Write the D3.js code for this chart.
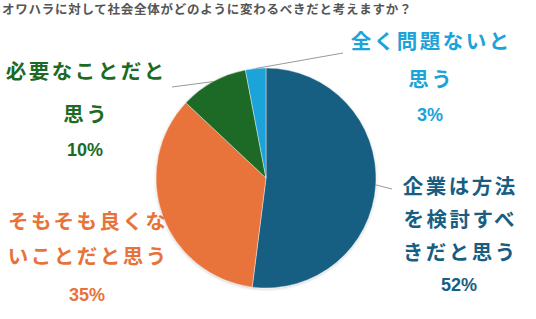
<!DOCTYPE html>
<html>
<head>
<meta charset="utf-8">
<script src="https://cdn.jsdelivr.net/npm/d3@7"></script>
<style>
  body { margin: 0; background: #fff; }
  text { font-family: "Noto Sans CJK JP", sans-serif; font-weight: bold; }
</style>
</head>
<body>
<svg width="536" height="319"></svg>
<script>
const svg = d3.select('svg')
const width = +svg.attr('width')
const height = +svg.attr('height')

const title = 'オワハラに対して社会全体がどのように変わるべきだと考えますか？'
const categories = ['企業は方法を検討すべきだと思う', 'そもそも良くないことだと思う', '必要なことだと思う', '全く問題ないと思う']
const values = [52, 35, 10, 3]
const labelLines = [
	['企業は方法', 'を検討すべ', 'きだと思う'],
	['そもそも良くな', 'いことだと思う'],
	['必要なことだと', '思う'],
	['全く問題ないと', '思う'],
]
const colors = ['#175e82', '#e8733a', '#1d6a25', '#1ba3da']

// label placement: block centre x, y of each text line, y of percent
const labelLayout = [
	{ x: 459, ys: [187, 220, 253], py: 285, anchor: [392, 189] },
	{ x: 87, ys: [222, 257], py: 295, anchor: null },
	{ x: 85, ys: [72, 115], py: 150, anchor: [172, 87] },
	{ x: 430, ys: [42, 80], py: 115, anchor: [343, 53] },
]

const cx = 266
const cy = 178
const radius = 110

svg.append('text')
	.attr('x', 2)
	.attr('y', 14)
	.attr('fill', '#555')
	.style('font-size', '12.5px')
	.style('letter-spacing', '0.75px')
	.text(title)

const defs = svg.append('defs')
const shadow = defs.append('filter').attr('id', 'shadow')
	.attr('x', '-10%').attr('y', '-10%').attr('width', '120%').attr('height', '120%')
shadow.append('feDropShadow')
	.attr('dx', 0).attr('dy', 1).attr('stdDeviation', 1.5)
	.attr('flood-color', '#000').attr('flood-opacity', 0.2)

const pie = d3.pie().sort(null).value(d => d)
const arcs = pie(values)

const path = d3.arc().innerRadius(0).outerRadius(radius)
const edge = d3.arc().innerRadius(radius).outerRadius(radius)

const g = svg.append('g').attr('transform', `translate(${cx},${cy})`)

g.append('g')
	.attr('filter', 'url(#shadow)')
	.selectAll('path')
	.data(arcs)
	.enter()
	.append('path')
	.attr('d', path)
	.attr('fill', (d, i) => colors[i])
	.attr('stroke', '#fff')
	.attr('stroke-width', 0.4)

// leader lines
arcs.forEach((d, i) => {
	const a = labelLayout[i].anchor
	if (!a) return
	const p = edge.centroid(d)
	svg.append('line')
		.attr('x1', cx + p[0]).attr('y1', cy + p[1])
		.attr('x2', a[0]).attr('y2', a[1])
		.attr('stroke', '#999')
		.attr('stroke-width', 1)
})

labelLayout.forEach((l, i) => {
	labelLines[i].forEach((t, j) => {
		svg.append('text')
			.attr('x', l.x + 1.25)
			.attr('y', l.ys[j])
			.attr('dy', '0.36em')
			.attr('text-anchor', 'middle')
			.attr('fill', colors[i])
			.style('font-size', '20.5px')
			.style('letter-spacing', '2.5px')
			.text(t)
	})
	svg.append('text')
		.attr('x', l.x)
		.attr('y', l.py)
		.attr('dy', '0.36em')
		.attr('text-anchor', 'middle')
		.attr('fill', colors[i])
		.style('font-family', '"Liberation Sans", Arial, sans-serif')
		.style('font-size', '18px')
		.text(`${values[i]}%`)
})
</script>
</body>
</html>
